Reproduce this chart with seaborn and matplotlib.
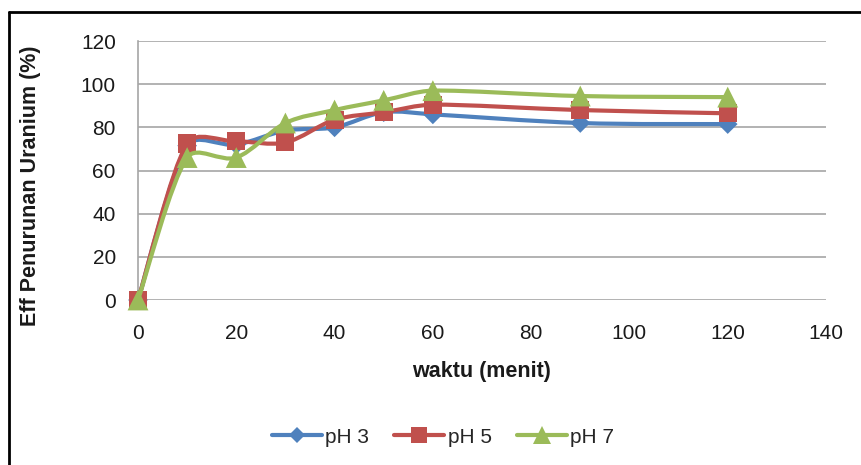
import numpy as np
import pandas as pd
import matplotlib
matplotlib.use("Agg")
import matplotlib.pyplot as plt
from matplotlib.path import Path
from matplotlib.patches import PathPatch
from matplotlib.lines import Line2D
import seaborn as sns

# ---- data ----
waktu = [0, 10, 20, 30, 40, 50, 60, 90, 120]
ph3 = [0, 71.5, 72, 78.5, 80, 87, 86, 82, 81.5]
ph5 = [0, 72.5, 73.5, 73, 83.5, 87, 90.5, 88, 86.5]
ph7 = [0, 66, 66, 82, 88, 92.5, 97, 94.5, 94]
series_names = ["pH 3", "pH 5", "pH 7"]
x_ticks = [0, 20, 40, 60, 80, 100, 120, 140]
y_ticks = [0, 20, 40, 60, 80, 100, 120]
x_label = "waktu (menit)"
y_label = "Eff Penurunan Uranium (%)"

colors = ["#4F81BD", "#C0504D", "#9BBB59"]
markers = ["D", "s", "^"]
msizes = [10, 13, 15]

df = pd.DataFrame({
    "waktu": waktu * 3,
    "eff": ph3 + ph5 + ph7,
    "series": sum([[n] * len(waktu) for n in series_names], []),
})

sns.set_theme(style="white")
plt.rcParams["font.family"] = ["Liberation Sans", "DejaVu Sans"]

fig = plt.figure(figsize=(8.62, 4.65), dpi=100)
ax = fig.add_axes([138 / 862, 1 - 300 / 465, 688 / 862, 259 / 465])
ax.set_xlim(0, 140)
ax.set_ylim(0, 120)


def smooth_path(xs, ys):
    """Excel-like smoothed line: Catmull-Rom bezier (screen space) with the
    control-point distance capped at a third of the segment length."""
    data = np.column_stack([xs, ys]).astype(float)
    pts = ax.transData.transform(data)
    n = len(pts)
    verts = [pts[0]]
    codes = [Path.MOVETO]

    def tangent(i):
        a = pts[i - 1] if i > 0 else pts[i]
        b = pts[i + 1] if i + 1 < n else pts[i]
        return (b - a) / 6.0

    def capped(t, seg):
        L = np.hypot(*t)
        lim = seg / 3.0
        return t * (lim / L) if L > lim and L > 0 else t

    for i in range(n - 1):
        p1, p2 = pts[i], pts[i + 1]
        seg = np.hypot(*(p2 - p1))
        c1 = p1 + capped(tangent(i), seg)
        c2 = p2 - capped(tangent(i + 1), seg)
        verts += [c1, c2, p2]
        codes += [Path.CURVE4] * 3
    verts = ax.transData.inverted().transform(np.array(verts))
    return Path(verts, codes)


for k, name in enumerate(series_names):
    sub = df[df["series"] == name]
    patch = PathPatch(smooth_path(sub["waktu"].values, sub["eff"].values),
                      transform=ax.transData, facecolor="none",
                      edgecolor=colors[k], lw=3.0, zorder=3 + 2 * k,
                      capstyle="round", joinstyle="round", clip_on=False)
    ax.add_patch(patch)
    sns.scatterplot(data=sub, x="waktu", y="eff", ax=ax, color=colors[k],
                    marker=markers[k], s=msizes[k] ** 2, edgecolor="none",
                    linewidth=0, zorder=4 + 2 * k, clip_on=False, legend=False)

ax.set_xlim(0, 140)
ax.set_ylim(0, 120)
ax.set_xticks(x_ticks)
ax.set_yticks(y_ticks)
ax.grid(axis="y", color="#A6A6A6", lw=1.2)
ax.grid(axis="x", visible=False)
for s in ["top", "right", "bottom"]:
    ax.spines[s].set_visible(False)
ax.spines["left"].set_color("#A6A6A6")
ax.spines["left"].set_linewidth(1.2)
ax.tick_params(axis="both", length=0, labelsize=15, colors="#1a1a1a")
ax.tick_params(axis="y", pad=16)
ax.tick_params(axis="x", pad=17)

ax.set_xlabel(x_label, fontsize=15.5, fontweight="bold", color="#1a1a1a")
ax.set_ylabel(y_label, fontsize=15.5, fontweight="bold", color="#1a1a1a")
ax.xaxis.set_label_coords((482 - 138) / 688, (300 - 371) / 259)
ax.xaxis.label.set_va("center")
ax.yaxis.set_label_coords((30 - 138) / 688, (300 - 186) / 259)
ax.yaxis.label.set_va("center")

handles = [Line2D([0], [0], color=colors[k], lw=3, marker=markers[k],
                  markersize=msizes[k] * 0.85, markeredgewidth=0)
           for k in range(3)]
fig.legend(handles, series_names, loc="center",
           bbox_to_anchor=(443 / 862, 1 - 437 / 465), ncol=3, frameon=False,
           fontsize=15, handlelength=2.4, handletextpad=0.15,
           columnspacing=1.2)

# outer chart border (left and top edges visible)
bx = 9.5 / 862
by = 1 - 12.5 / 465
fig.add_artist(Line2D([bx, bx], [0, by], transform=fig.transFigure,
                      color="black", lw=2.0))
fig.add_artist(Line2D([bx, 1], [by, by], transform=fig.transFigure,
                      color="black", lw=2.0))

fig.savefig("out.png", dpi=100)
